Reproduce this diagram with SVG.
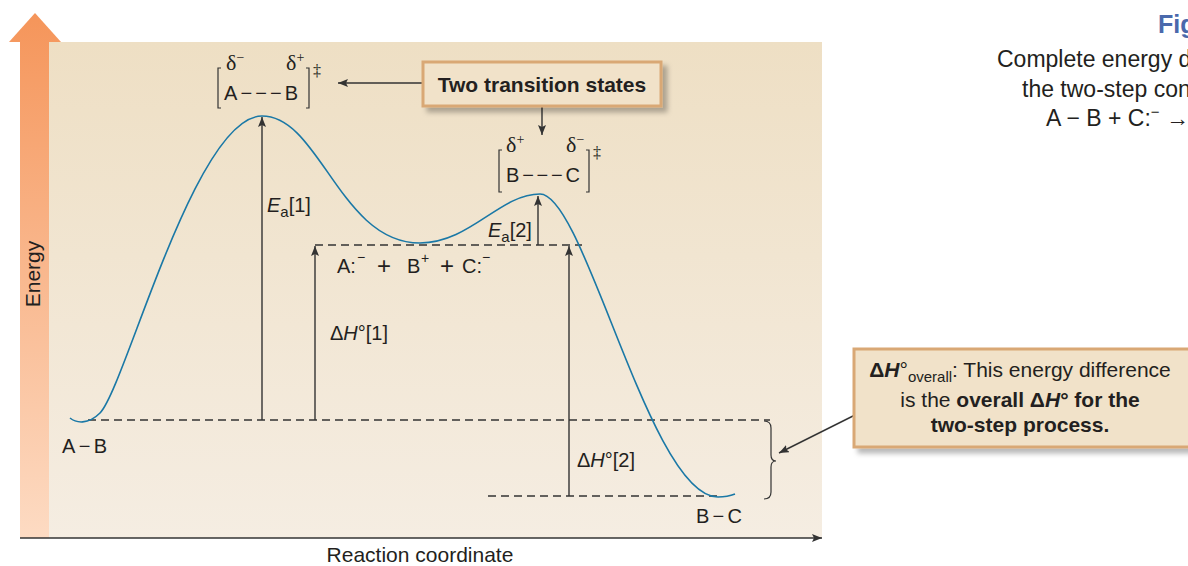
<svg xmlns="http://www.w3.org/2000/svg" width="1188" height="566" viewBox="0 0 1188 566">
<defs>
  <linearGradient id="panelGrad" x1="0" y1="42" x2="0" y2="538" gradientUnits="userSpaceOnUse">
    <stop offset="0" stop-color="#EEDFC4"/>
    <stop offset="1" stop-color="#F5EDE2"/>
  </linearGradient>
  <linearGradient id="barGrad" x1="0" y1="13" x2="0" y2="538" gradientUnits="userSpaceOnUse">
    <stop offset="0" stop-color="#F5955A"/>
    <stop offset="1" stop-color="#FDDBC3"/>
  </linearGradient>
  <marker id="ah" markerUnits="userSpaceOnUse" markerWidth="11" markerHeight="8" refX="10" refY="4" orient="auto">
    <path d="M0,0 L10,4 L0,8 L2,4 z" fill="#333"/>
  </marker>
  <filter id="shadow" x="-10%" y="-20%" width="130%" height="160%">
    <feDropShadow dx="5" dy="5" stdDeviation="2.5" flood-color="#000" flood-opacity="0.28"/>
  </filter>
  <style>
    .t { font-family: "Liberation Sans", Arial, sans-serif; fill: #231F20; }
    .s { font-family: "Liberation Serif", "Times New Roman", serif; fill: #231F20; }
    .cap { fill: #4A69AC; }
    .dash { stroke: #333; stroke-width: 1.3; stroke-dasharray: 8 5; fill: none; }
    .arr { stroke: #333; stroke-width: 1.4; fill: none; marker-end: url(#ah); }
    .curve { fill: none; stroke: #1A78A6; stroke-width: 1.6; }
    .box { fill: #F1E2C9; stroke: #D9A874; stroke-width: 3; }
    .brk { fill: none; stroke: #333; stroke-width: 1.2; }
  </style>
</defs>

<!-- background panel and energy axis -->
<rect x="49" y="42" width="773" height="496" fill="url(#panelGrad)"/>
<g id="energy-axis">
  <rect x="20" y="42" width="29" height="496" fill="url(#barGrad)"/>
  <polygon points="9,42 35,13 61,42" fill="url(#barGrad)"/>
  <text class="t" font-size="21" transform="translate(40,274) rotate(-90)" text-anchor="middle">Energy</text>
</g>

<!-- dashed energy levels -->
<g id="levels">
  <line class="dash" x1="88" y1="420" x2="770" y2="420"/>
  <line class="dash" x1="315" y1="245" x2="582" y2="245"/>
  <line class="dash" x1="488" y1="496" x2="722" y2="496"/>
</g>

<!-- reaction curve -->
<g id="curve">
  <path class="curve" d="M70,418 C76,423 88,425 100,413 C125,388 195,116 262,116 C320,116 340,243 420,243 C470,243 500,194 540,194 C585,194 650,497 718,497 C726,497 730,496 735,494"/>
</g>

<!-- connectors -->
<g id="connectors">
  <line class="arr" x1="20" y1="538" x2="822" y2="538"/>
  <line class="arr" x1="262" y1="420" x2="262" y2="117"/>
  <line class="arr" x1="315" y1="420" x2="315" y2="246"/>
  <line class="arr" x1="538" y1="245" x2="538" y2="196"/>
  <line class="arr" x1="569" y1="496" x2="569" y2="246"/>
  <line class="arr" x1="423" y1="83" x2="338" y2="83"/>
  <line class="arr" x1="542" y1="107" x2="542" y2="135"/>
  <line class="arr" x1="855" y1="415" x2="779" y2="453"/>
  <path class="brk" d="M764,421 Q771,421 771,428 L771,455 Q771,461 776,461 Q771,461 771,467 L771,492 Q771,499 764,499"/>
</g>

<!-- transition state 1 -->
<g id="ts1">
  <polyline class="brk" points="221,68 218,68 218,108 221,108"/>
  <polyline class="brk" points="306,68 309,68 309,108 306,108"/>
  <text class="s" font-size="22" x="226" y="70">δ<tspan font-size="14" dy="-8">−</tspan></text>
  <text class="s" font-size="22" x="286" y="70">δ<tspan font-size="14" dy="-8">+</tspan></text>
  <text class="t" font-size="20" x="224" y="100" textLength="74" lengthAdjust="spacing">A−−−B</text>
  <text class="s" font-size="16" x="313" y="76">‡</text>
</g>

<!-- transition state 2 -->
<g id="ts2">
  <polyline class="brk" points="502,150 499,150 499,192 502,192"/>
  <polyline class="brk" points="586,150 589,150 589,192 586,192"/>
  <text class="s" font-size="22" x="506" y="152">δ<tspan font-size="14" dy="-8">+</tspan></text>
  <text class="s" font-size="22" x="566" y="152">δ<tspan font-size="14" dy="-8">−</tspan></text>
  <text class="t" font-size="20" x="506" y="182" textLength="74" lengthAdjust="spacing">B−−−C</text>
  <text class="s" font-size="16" x="593" y="158">‡</text>
</g>

<!-- labels -->
<g id="label-ea1">
  <text class="t" font-size="20" x="267" y="212"><tspan font-style="italic">E</tspan><tspan font-size="15" dy="5">a</tspan><tspan dy="-5">[1]</tspan></text>
</g>
<g id="label-ea2">
  <text class="t" font-size="20" x="488" y="237"><tspan font-style="italic">E</tspan><tspan font-size="15" dy="5">a</tspan><tspan dy="-5">[2]</tspan></text>
</g>
<g id="label-dh1">
  <text class="t" font-size="20" x="330" y="340">Δ<tspan font-style="italic">H</tspan>°[1]</text>
</g>
<g id="label-dh2">
  <text class="t" font-size="20" x="577" y="467">Δ<tspan font-style="italic">H</tspan>°[2]</text>
</g>
<g id="intermediates">
  <text class="t" font-size="20" y="273"><tspan x="337">A:</tspan><tspan x="357" y="262" font-size="14">−</tspan><tspan x="377" y="274" font-size="24">+</tspan><tspan x="407" y="273">B</tspan><tspan x="421" y="263" font-size="14">+</tspan><tspan x="440" y="274" font-size="24">+</tspan><tspan x="462" y="273">C:</tspan><tspan x="482" y="262" font-size="14">−</tspan></text>
</g>
<g id="reactant">
  <text class="t" font-size="20" x="62" y="453" textLength="45" lengthAdjust="spacing">A−B</text>
</g>
<g id="product">
  <text class="t" font-size="20" x="696" y="523" textLength="46" lengthAdjust="spacing">B−C</text>
</g>
<g id="x-axis-label">
  <text class="t" font-size="21" x="420" y="562" text-anchor="middle">Reaction coordinate</text>
</g>

<!-- callout boxes -->
<g id="box-ts">
  <rect class="box" x="423" y="62" width="238" height="44" filter="url(#shadow)"/>
  <text class="t" x="542" y="92" font-size="21" font-weight="bold" text-anchor="middle">Two transition states</text>
</g>
<g id="box-overall">
  <rect class="box" x="854" y="349" width="340" height="98" filter="url(#shadow)"/>
  <text class="t" x="1020" y="377" font-size="21" text-anchor="middle"><tspan font-weight="bold">Δ<tspan font-style="italic">H</tspan></tspan>°<tspan font-size="15" dy="5">overall</tspan><tspan dy="-5">: This energy difference</tspan></text>
  <text class="t" x="1020" y="407" font-size="21" text-anchor="middle">is the <tspan font-weight="bold">overall Δ<tspan font-style="italic">H</tspan>° for the</tspan></text>
  <text class="t" x="1020" y="432" font-size="21" font-weight="bold" text-anchor="middle">two-step process.</text>
</g>

<!-- caption (cropped at right edge, as in the reference) -->
<g id="caption">
  <text class="t cap" x="1158" y="33" font-size="25" font-weight="bold">Fig</text>
  <text class="t" x="997" y="67" font-size="23">Complete energy d</text>
  <text class="t" x="1022" y="97" font-size="23">the two-step con</text>
  <text class="t" x="1046" y="126" font-size="23">A − B + C:<tspan font-size="15" dy="-9">−</tspan><tspan dy="9"> →</tspan></text>
</g>
</svg>
